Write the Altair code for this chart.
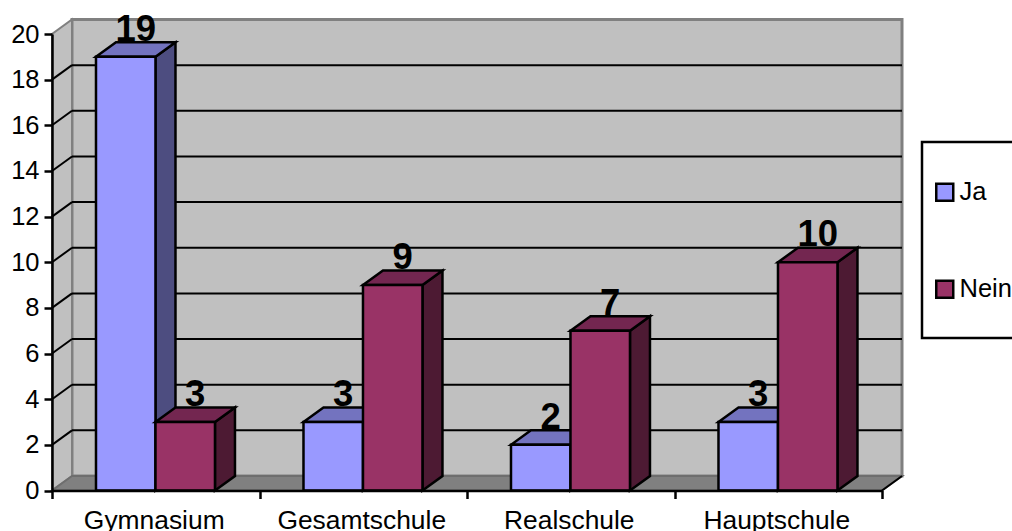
import altair as alt
import pandas as pd

# Survey counts per school type
categories = ["Gymnasium", "Gesamtschule", "Realschule", "Hauptschule"]
ja_values = [19, 3, 2, 3]
nein_values = [3, 9, 7, 10]
y_ticks = list(range(0, 21, 2))

FONT = "Liberation Sans"
PLOT_W, PLOT_H = 830, 456.5

# Projection of the chart depth, and bar layout, in axis units
DEPTH_X = 20 / 207.5
DEPTH_Y = 14.5 / 22.83
BAR_START = 0.212
BAR_W = 0.2867

WALL = "#C0C0C0"
WALL_EDGE = "#808080"
FLOOR = "#808080"
BAR_STROKE = 2.5
FACES = {
    "Ja": {"front": "#9999FF", "top": "#7373BF", "side": "#4D4D80"},
    "Nein": {"front": "#993366", "top": "#732650", "side": "#4D1A33"},
}

x_scale = alt.Scale(domain=[0, 4], nice=False, zero=False)
y_scale = alt.Scale(domain=[0, 20], nice=False, zero=False)


def X(field, **kw):
    return alt.X(f"{field}:Q", scale=x_scale, title=None, **kw)


def Y(field, **kw):
    return alt.Y(f"{field}:Q", scale=y_scale, title=None, stack=None, **kw)


def X2(field):
    return alt.X2(f"{field}:Q")


def Y2(field):
    return alt.Y2(f"{field}:Q")


# Bar tables
fronts, tops, sides, labels = [], [], [], []
for series, values, slot in (("Ja", ja_values, 0), ("Nein", nein_values, 1)):
    for i, v in enumerate(values):
        x0 = i + BAR_START + slot * BAR_W
        x1 = x0 + BAR_W
        key = f"{series}-{i}"
        fronts.append({"series": series, "x0": x0, "x1": x1, "y0": 0, "y1": v})
        tops.append({"series": series, "bar": key, "y": v, "x0": x0, "x1": x1})
        tops.append({"series": series, "bar": key, "y": v + DEPTH_Y,
                     "x0": x0 + DEPTH_X, "x1": x1 + DEPTH_X})
        sides.append({"series": series, "bar": key, "x": x1, "y0": 0, "y1": v})
        sides.append({"series": series, "bar": key, "x": x1 + DEPTH_X,
                      "y0": DEPTH_Y, "y1": v + DEPTH_Y})
        labels.append({"x": (x0 + x1 + DEPTH_X) / 2, "y": v + DEPTH_Y, "label": str(v)})
fronts = pd.DataFrame(fronts)
tops = pd.DataFrame(tops)
sides = pd.DataFrame(sides)
labels = pd.DataFrame(labels)

# Chart box: back wall, left wall, floor
back_wall = pd.DataFrame([{"x0": DEPTH_X, "x1": 4 + DEPTH_X, "y0": DEPTH_Y, "y1": 20 + DEPTH_Y}])
left_wall = pd.DataFrame([
    {"x": 0, "y0": 0, "y1": 20},
    {"x": DEPTH_X, "y0": DEPTH_Y, "y1": 20 + DEPTH_Y},
])
floor = pd.DataFrame([
    {"y": 0, "x0": 0, "x1": 4},
    {"y": DEPTH_Y, "x0": DEPTH_X, "x1": 4 + DEPTH_X},
])
floor_edge = pd.DataFrame([{"x": 4, "y": 0}, {"x": 4 + DEPTH_X, "y": DEPTH_Y}])

inner_ticks = [t for t in y_ticks if 0 < t < 20]
grid_back = pd.DataFrame([{"x0": DEPTH_X, "x1": 4 + DEPTH_X, "y": t + DEPTH_Y} for t in inner_ticks])
grid_side = pd.DataFrame(
    [{"tick": t, "x": 0, "y": t} for t in inner_ticks]
    + [{"tick": t, "x": DEPTH_X, "y": t + DEPTH_Y} for t in inner_ticks]
)

names_expr = "[" + ",".join(f"'{c}'" for c in categories) + ",''][datum.value]"

axis_common = dict(
    grid=False, domainColor="black", domainWidth=2.5, tickColor="black", tickWidth=2.5,
    tickSize=8, labelFont=FONT, labelColor="black", zindex=1,
    labelOverlap=False, labelFlush=False, labelBound=False,
)

wall_layer = alt.Chart(back_wall).mark_rect(
    fill=WALL, stroke=WALL_EDGE, strokeWidth=3
).encode(
    x=X("x0", axis=alt.Axis(values=[0, 1, 2, 3, 4], labelExpr=names_expr, labelFontSize=26.4,
                            labelOffset=101.75, labelPadding=8.5, **axis_common)),
    x2=X2("x1"),
    y=Y("y0", axis=alt.Axis(values=y_ticks, labelPadding=5, labelFontSize=25.5, format="d",
                            **axis_common)),
    y2=Y2("y1"),
)
left_layer = alt.Chart(left_wall).mark_area(
    fill=WALL, stroke=WALL_EDGE, strokeWidth=2
).encode(x=X("x"), y=Y("y0"), y2=Y2("y1"))
floor_layer = alt.Chart(floor).mark_area(
    orient="horizontal", fill=FLOOR, stroke="#6E6E6E", strokeWidth=2
).encode(y=Y("y"), x=X("x0"), x2=X2("x1"))
floor_edge_layer = alt.Chart(floor_edge).mark_line(color="black", strokeWidth=2).encode(
    x=X("x"), y=Y("y")
)
grid_back_layer = alt.Chart(grid_back).mark_rule(color="black", strokeWidth=2).encode(
    x=X("x0"), x2=X2("x1"), y=Y("y")
)
grid_side_layer = alt.Chart(grid_side).mark_line(color="black", strokeWidth=2).encode(
    x=X("x"), y=Y("y"), detail="tick:N"
)


def bar_layers(series):
    faces = FACES[series]
    side = alt.Chart(sides[sides.series == series]).mark_area(
        fill=faces["side"], stroke="black", strokeWidth=BAR_STROKE
    ).encode(x=X("x"), y=Y("y0"), y2=Y2("y1"), detail="bar:N")
    top = alt.Chart(tops[tops.series == series]).mark_area(
        orient="horizontal", fill=faces["top"], stroke="black", strokeWidth=BAR_STROKE
    ).encode(y=Y("y"), x=X("x0"), x2=X2("x1"), detail="bar:N")
    front = alt.Chart(fronts[fronts.series == series]).mark_rect(
        stroke="black", strokeWidth=BAR_STROKE
    ).encode(
        x=X("x0"), x2=X2("x1"), y=Y("y0"), y2=Y2("y1"),
        color=alt.Color(
            "series:N",
            scale=alt.Scale(domain=list(FACES), range=[FACES[s]["front"] for s in FACES]),
            legend=alt.Legend(
                title=None, orient="none", legendX=880, legendY=145.5, padding=0,
                symbolType="square", symbolSize=289, symbolStrokeColor="black",
                symbolStrokeWidth=2.5, labelFont=FONT, labelFontSize=25.5, labelColor="black",
                rowPadding=69, labelOffset=2,
            ),
        ),
    )
    return [side, top, front]


value_labels = alt.Chart(labels).mark_text(
    font=FONT, fontSize=36.5, fontWeight="bold", color="black", baseline="alphabetic", dy=-1.5
).encode(x=X("x"), y=Y("y"), text="label:N")

# Legend frame runs off the right edge of the page
legend_frame = alt.Chart(pd.DataFrame({"k": [0]})).mark_rect(
    fill="white", stroke="black", strokeWidth=2.5
).encode(
    x=alt.value(870), x2=alt.value(1060), y=alt.value(108), y2=alt.value(304)
)

chart = alt.layer(
    wall_layer, left_layer, floor_layer, floor_edge_layer, grid_back_layer, grid_side_layer,
    *bar_layers("Ja"), *bar_layers("Nein"), value_labels, legend_frame,
).properties(
    width=PLOT_W, height=PLOT_H,
    padding={"left": 52, "top": 34, "right": 130, "bottom": 40.5},
    autosize=alt.AutoSizeParams(type="none"),
    background="white",
).configure_view(stroke=None)

chart.save("out.html", embed_options={"renderer": "svg", "actions": False})
